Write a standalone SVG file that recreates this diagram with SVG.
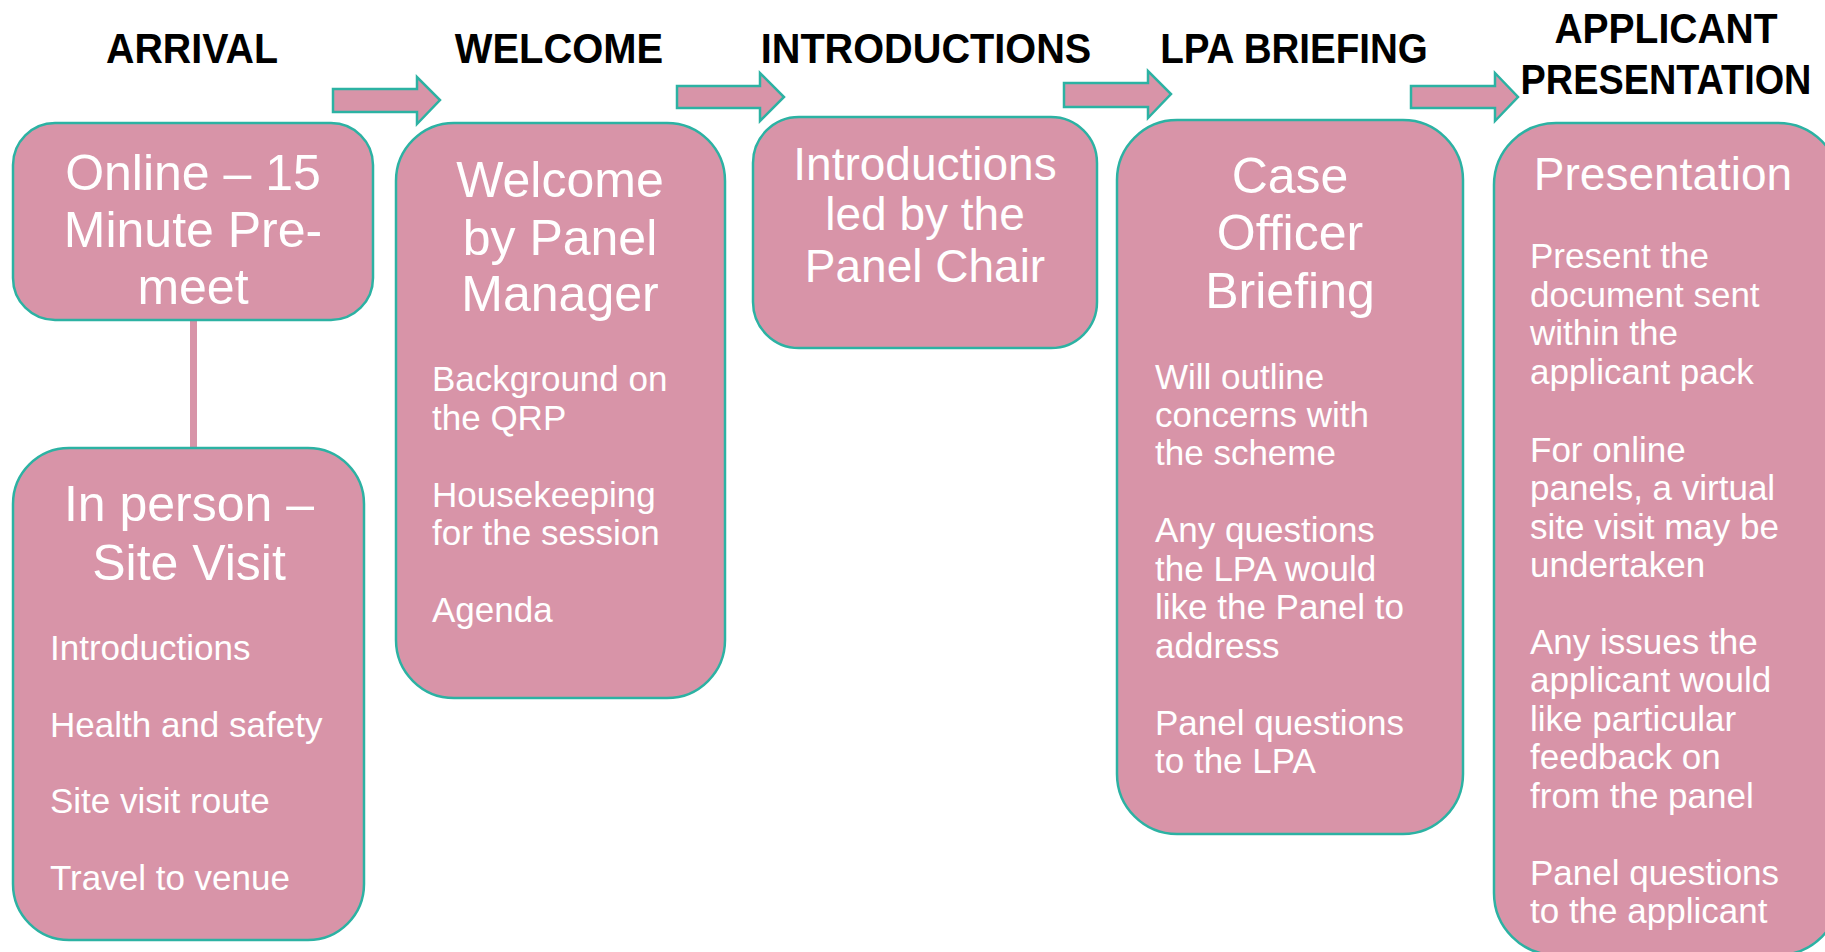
<svg xmlns="http://www.w3.org/2000/svg" width="1825" height="952" viewBox="0 0 1825 952">
<style>
.box{fill:#d894a8;stroke:#2cb2a3;stroke-width:2.5}
.arr{fill:#d894a8;stroke:#2cb2a3;stroke-width:2.5;stroke-linejoin:miter}
.bar{fill:#d894a8}
.hd{font-family:"Liberation Sans",Arial,sans-serif;font-weight:bold;font-size:43px;fill:#000;text-anchor:middle}
.t{font-family:"Liberation Sans",Arial,sans-serif;font-size:50px;fill:#fff;text-anchor:middle}
.t46{font-family:"Liberation Sans",Arial,sans-serif;font-size:46px;fill:#fff;text-anchor:middle}
.b{font-family:"Liberation Sans",Arial,sans-serif;font-size:35px;fill:#fff}
</style>
<rect width="1825" height="952" fill="#fff"/>
<g id="headers">
<text class="hd" transform="translate(192,63) scale(0.915,1)" x="0" y="0">ARRIVAL</text>
<text class="hd" transform="translate(559,63) scale(0.928,1)" x="0" y="0">WELCOME</text>
<text class="hd" transform="translate(926,63) scale(0.923,1)" x="0" y="0">INTRODUCTIONS</text>
<text class="hd" transform="translate(1294,63) scale(0.897,1)" x="0" y="0">LPA BRIEFING</text>
<text class="hd" transform="translate(1666,43) scale(0.907,1)" x="0" y="0">APPLICANT</text>
<text class="hd" transform="translate(1666,94) scale(0.88,1)" x="0" y="0">PRESENTATION</text>
</g>
<g id="connectors">
<rect class="bar" x="190" y="319" width="7" height="131"/>
<polygon class="arr" points="333,89 417,89 417,77 440,100 417,124 417,112 333,112"/>
<polygon class="arr" points="677,86 760,86 760,73 784,97 760,121 760,108 677,108"/>
<polygon class="arr" points="1064,83 1148,83 1148,71 1171,94 1148,118 1148,107 1064,107"/>
<polygon class="arr" points="1411,86 1495,86 1495,73 1518,97 1495,121 1495,108 1411,108"/>
</g>
<g id="node-online">
<rect class="box" x="13" y="123" width="360" height="197" rx="42"/>
<text class="t" x="193" y="190">Online – 15</text>
<text class="t" x="193" y="247">Minute Pre-</text>
<text class="t" x="193" y="304">meet</text>
</g>
<g id="node-inperson">
<rect class="box" x="13" y="448" width="351" height="492" rx="56"/>
<text class="t" x="189" y="521">In person –</text>
<text class="t" x="189" y="580">Site Visit</text>
<text class="b" x="50" y="660">Introductions</text>
<text class="b" x="50" y="737">Health and safety</text>
<text class="b" x="50" y="813">Site visit route</text>
<text class="b" x="50" y="890">Travel to venue</text>
</g>
<g id="node-welcome">
<rect class="box" x="396" y="123" width="329" height="575" rx="58"/>
<text class="t" x="560" y="197">Welcome</text>
<text class="t" x="560" y="255">by Panel</text>
<text class="t" x="560" y="311">Manager</text>
<text class="b" x="432" y="391">Background on</text>
<text class="b" x="432" y="430">the QRP</text>
<text class="b" x="432" y="507">Housekeeping</text>
<text class="b" x="432" y="545">for the session</text>
<text class="b" x="432" y="622">Agenda</text>
</g>
<g id="node-introductions">
<rect class="box" x="753" y="117" width="344" height="231" rx="46"/>
<text class="t46" x="925" y="180">Introductions</text>
<text class="t46" x="925" y="230">led by the</text>
<text class="t46" x="925" y="282">Panel Chair</text>
</g>
<g id="node-briefing">
<rect class="box" x="1117" y="120" width="346" height="714" rx="60"/>
<text class="t" x="1290" y="193">Case</text>
<text class="t" x="1290" y="250">Officer</text>
<text class="t" x="1290" y="308">Briefing</text>
<text class="b" x="1155" y="389">Will outline</text>
<text class="b" x="1155" y="427">concerns with</text>
<text class="b" x="1155" y="465">the scheme</text>
<text class="b" x="1155" y="542">Any questions</text>
<text class="b" x="1155" y="581">the LPA would</text>
<text class="b" x="1155" y="619">like the Panel to</text>
<text class="b" x="1155" y="658">address</text>
<text class="b" x="1155" y="735">Panel questions</text>
<text class="b" x="1155" y="773">to the LPA</text>
</g>
<g id="node-presentation">
<rect class="box" x="1494" y="123" width="346" height="832" rx="62"/>
<text class="t46" x="1663" y="190">Presentation</text>
<text class="b" x="1530" y="268">Present the</text>
<text class="b" x="1530" y="307">document sent</text>
<text class="b" x="1530" y="345">within the</text>
<text class="b" x="1530" y="384">applicant pack</text>
<text class="b" x="1530" y="462">For online</text>
<text class="b" x="1530" y="500">panels, a virtual</text>
<text class="b" x="1530" y="539">site visit may be</text>
<text class="b" x="1530" y="577">undertaken</text>
<text class="b" x="1530" y="654">Any issues the</text>
<text class="b" x="1530" y="692">applicant would</text>
<text class="b" x="1530" y="731">like particular</text>
<text class="b" x="1530" y="769">feedback on</text>
<text class="b" x="1530" y="808">from the panel</text>
<text class="b" x="1530" y="885">Panel questions</text>
<text class="b" x="1530" y="923">to the applicant</text>
</g>
</svg>
